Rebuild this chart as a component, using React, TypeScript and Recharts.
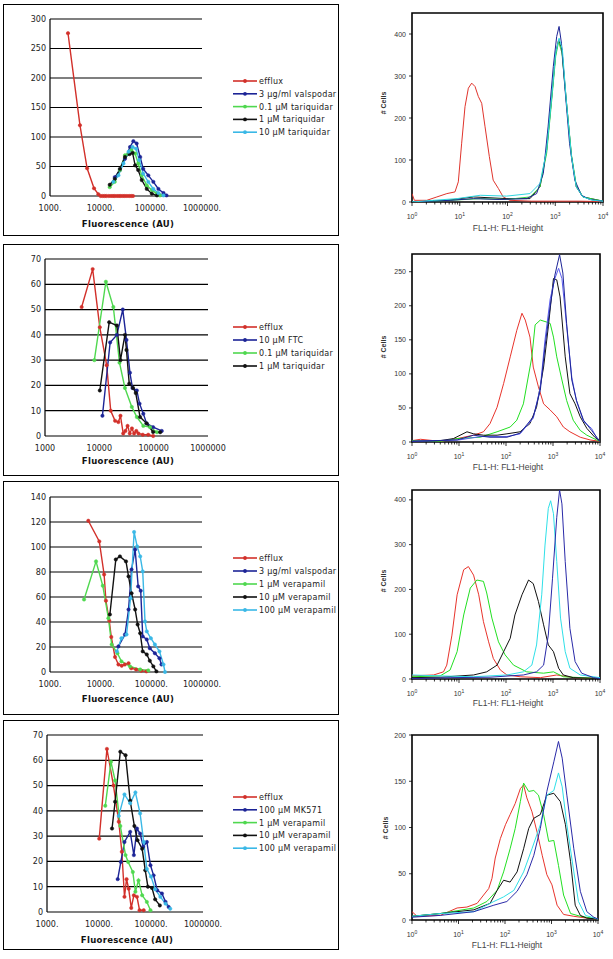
import React from 'react';
import { LineChart, Line, XAxis, YAxis, CartesianGrid, ReferenceArea } from 'recharts';

type Pt = [number, number];

// ---------------- Left panels: Fluorescence (AU) line charts ----------------
const leftXTicks = [1000, 10000, 100000, 1000000];
const c1YTicks = [0, 50, 100, 150, 200, 250, 300];
const c2YTicks = [0, 10, 20, 30, 40, 50, 60, 70];
const c3YTicks = [0, 20, 40, 60, 80, 100, 120, 140];
const c4YTicks = [0, 10, 20, 30, 40, 50, 60, 70];

const c1Labels = ['efflux', '3 µg/ml valspodar', '0.1 µM tariquidar', '1 µM tariquidar', '10 µM tariquidar'];
const c2Labels = ['efflux', '10 µM FTC', '0.1 µM tariquidar', '1 µM tariquidar'];
const c3Labels = ['efflux', '3 µg/ml valspodar', '1 µM verapamil', '10 µM verapamil', '100 µM verapamil'];
const c4Labels = ['efflux', '100 µM MK571', '1 µM verapamil', '10 µM verapamil', '100 µM verapamil'];

const c1Efflux: Pt[] = [[2265, 276], [3900, 120], [5400, 47], [7400, 13], [9000, 3], [10000, 0], [11000, 0], [12000, 0], [13000, 0], [14500, 0], [16000, 0], [17500, 0], [19000, 0], [21000, 0], [23000, 0], [25000, 0], [27500, 0], [30000, 0], [33000, 0], [36500, 0], [40000, 0], [43500, 0]];
const c1Valspodar: Pt[] = [[19000, 32], [24000, 44], [30200, 63], [38000, 83], [44200, 93], [51300, 89], [60300, 66], [69200, 46], [87100, 35], [109600, 24], [138000, 12], [173800, 5], [199500, 1]];
const c1Tq01: Pt[] = [[15100, 15], [19000, 24], [24000, 44], [30200, 69], [35500, 72], [40700, 78], [47900, 72], [55000, 55], [64600, 35], [81300, 18], [102300, 10], [128800, 4], [147900, 1]];
const c1Tq1: Pt[] = [[15100, 19], [19000, 29], [24000, 46], [30200, 66], [37200, 71], [42700, 73], [47900, 52], [55000, 44], [64600, 27], [81300, 12], [102300, 4], [128800, 1]];
const c1Tq10: Pt[] = [[17800, 24], [22400, 35], [28200, 55], [35500, 75], [42700, 83], [50100, 80], [57500, 61], [69200, 38], [87100, 24], [109600, 12], [138000, 5], [173800, 1]];

const c2Efflux: Pt[] = [[4730, 51], [7540, 66], [10200, 43], [13650, 28], [16200, 10], [19500, 6], [22400, 5.5], [24500, 8], [27500, 1], [30200, 2], [33100, 4], [36300, 1], [39800, 3], [43600, 1], [47900, 2], [52500, 1], [63000, 0.5], [79400, 0.5], [98000, 0]];
const c2Ftc: Pt[] = [[11400, 8], [15800, 37], [21000, 40], [27000, 50], [31600, 38], [36600, 25], [40700, 19], [49000, 18], [55000, 12.8], [64500, 8.8], [74100, 5], [97700, 3.5], [141000, 2]];
const c2Tq01: Pt[] = [[8100, 30], [13200, 61], [18100, 51], [23500, 29], [29600, 19], [39600, 11.5], [49000, 7.5], [64500, 4], [85600, 3.5], [115000, 1.5]];
const c2Tq1: Pt[] = [[10200, 18], [15200, 45], [21000, 43.7], [24500, 30], [29600, 40], [31600, 34], [35500, 20.7], [41700, 19], [46800, 17], [56200, 7.5], [74100, 5], [97700, 1.6], [131800, 1.5]];

const c3Efflux: Pt[] = [[5700, 121], [9400, 104.5], [11700, 78], [12700, 57], [14800, 41], [16200, 28], [19200, 12], [22400, 6], [26000, 5], [30000, 6], [35500, 7], [40000, 3], [50000, 2], [63000, 1], [80000, 0.5]];
const c3Valspodar: Pt[] = [[22400, 20.5], [30200, 30], [35500, 50], [40700, 82], [47900, 98], [55000, 68.5], [61700, 65], [67600, 28.5], [81300, 26], [93300, 19], [117500, 15], [144500, 11], [158500, 6]];
const c3Vp1: Pt[] = [[4700, 58], [8100, 88.5], [11000, 69], [14200, 43], [16500, 22], [21400, 15], [25700, 8.5], [38000, 4.5], [60300, 2], [87100, 1.3]];
const c3Vp10: Pt[] = [[15200, 46], [19900, 90], [24000, 92.5], [31600, 88.5], [35500, 76.5], [40700, 63], [47900, 50], [53700, 38], [60300, 31], [67600, 16.5], [81300, 14], [93300, 9], [109600, 4.5], [125900, 0.5]];
const c3Vp100: Pt[] = [[20900, 16.5], [25700, 27], [32400, 30], [38900, 59], [45700, 112], [52500, 100.5], [60300, 92.5], [67600, 80.5], [75000, 40.5], [81300, 32.5], [97700, 27], [117500, 22], [144500, 16.5], [173800, 6], [186200, 0]];

const c4Efflux: Pt[] = [[10100, 29], [14200, 64.5], [19000, 50], [24000, 35.7], [27500, 23.8], [30900, 6], [33900, 13], [37200, 9.2], [41700, 1.6], [46800, 6.6], [53700, 6], [60300, 0.7], [72400, 0.7]];
const c4Mk571: Pt[] = [[22900, 13], [26300, 19.8], [30900, 27.7], [39800, 31.7], [46800, 22.5], [53700, 33], [61700, 31], [70800, 25.8], [83200, 27.7], [97700, 18.5], [112200, 14.5], [131800, 8.6], [162200, 7.3], [190500, 4], [218800, 2]];
const c4Vp1: Pt[] = [[13200, 42], [17000, 59.4], [20400, 52], [25700, 34], [32400, 22.5], [36300, 19.8], [44700, 15.8], [50100, 8], [57500, 12.5], [67600, 6.6], [83200, 4], [97700, 0.7]];
const c4Vp10: Pt[] = [[17800, 33], [20400, 43.6], [25700, 63.4], [32400, 62], [39800, 44], [47900, 34], [55000, 28.4], [67600, 25], [77600, 16.5], [87100, 10], [104700, 9.5], [120200, 5], [147900, 2.6]];
const c4Vp100: Pt[] = [[24000, 38], [30900, 46.5], [39800, 43], [50100, 47.3], [61700, 39], [72400, 27.7], [83200, 17], [100000, 14], [120200, 9], [151400, 6], [190500, 3.3], [234400, 1.3]];

// ---------------- Right panels: flow cytometry histograms (x = log10 FL1-H) ----------------
const histMajorTicks = [0, 1, 2, 3, 4];
const histMinorFactors = [2, 3, 4, 5, 6, 7, 8, 9];
const h1YTicks = [0, 100, 200, 300, 400];
const h2YTicks = [0, 50, 100, 150, 200, 250];
const h3YTicks = [0, 100, 200, 300, 400];
const h4YTicks = [0, 50, 100, 150, 200];

const h1Red: Pt[] = [[0, 20], [0.05, 4], [0.31, 4], [0.52, 12], [0.73, 20], [0.9, 24], [0.97, 48], [1.04, 140], [1.11, 227], [1.18, 271], [1.25, 283], [1.32, 275], [1.39, 251], [1.46, 235], [1.53, 179], [1.62, 108], [1.7, 52], [1.81, 32], [1.91, 12], [2.05, 4], [2.5, 2], [3.0, 2], [3.5, 2], [4, 1]];
const h1Navy: Pt[] = [[0, 0], [0.8, 4], [1.29, 8], [1.84, 6], [2.4, 8], [2.61, 20], [2.75, 68], [2.85, 179], [2.96, 323], [3.03, 394], [3.08, 418], [3.13, 378], [3.2, 275], [3.3, 139], [3.41, 52], [3.55, 16], [3.72, 6], [4, 2]];
const h1Cyan: Pt[] = [[0, 0], [0.45, 4], [0.94, 8], [1.43, 16], [1.98, 14], [2.47, 20], [2.68, 44], [2.82, 124], [2.92, 243], [3.01, 355], [3.08, 390], [3.15, 363], [3.23, 243], [3.34, 108], [3.44, 36], [3.58, 12], [3.79, 4], [4, 2]];
const h1Green: Pt[] = [[0, 0], [0.8, 4], [1.43, 8], [1.98, 6], [2.47, 12], [2.68, 36], [2.82, 116], [2.92, 235], [3.01, 347], [3.07, 382], [3.14, 355], [3.23, 243], [3.34, 112], [3.44, 40], [3.58, 12], [4, 2]];
const h1Black: Pt[] = [[0, 0], [0.73, 4], [1.29, 12], [1.98, 8], [2.47, 8], [2.68, 36], [2.82, 124], [2.92, 243], [3.01, 355], [3.07, 386], [3.14, 363], [3.23, 243], [3.34, 108], [3.44, 36], [3.58, 12], [4, 2]];

const h2Red: Pt[] = [[0, 2], [0.18, 4], [0.6, 1], [0.96, 5], [1.31, 10], [1.52, 15], [1.66, 27], [1.81, 51], [1.95, 86], [2.09, 125], [2.23, 164], [2.34, 189], [2.41, 179], [2.51, 154], [2.58, 110], [2.69, 81], [2.8, 56], [2.94, 47], [3.08, 37], [3.22, 22], [3.36, 15], [3.58, 7], [3.79, 3], [4, 1]];
const h2Green: Pt[] = [[0, 2], [0.6, 1], [0.96, 5], [1.45, 7], [1.81, 15], [2.09, 22], [2.23, 32], [2.37, 56], [2.55, 125], [2.62, 172], [2.73, 179], [2.87, 176], [2.94, 174], [3.01, 154], [3.08, 125], [3.19, 91], [3.29, 61], [3.43, 32], [3.58, 17], [3.72, 10], [3.93, 3], [4, 1]];
const h2Black: Pt[] = [[0, 1], [0.6, 2], [0.88, 5], [1.17, 15], [1.31, 12], [1.52, 10], [1.81, 10], [2.02, 12], [2.3, 15], [2.51, 27], [2.65, 51], [2.8, 110], [2.9, 169], [3.01, 240], [3.08, 238], [3.15, 213], [3.26, 125], [3.36, 71], [3.47, 56], [3.58, 37], [3.72, 20], [3.89, 7], [4, 1]];
const h2Blue: Pt[] = [[0, 1], [1.0, 3], [1.45, 8], [2.02, 8], [2.3, 12], [2.58, 35], [2.73, 80], [2.83, 150], [2.94, 210], [3.04, 240], [3.12, 255], [3.19, 240], [3.29, 170], [3.4, 95], [3.5, 60], [3.65, 30], [3.82, 20], [3.93, 6], [4, 1]];
const h2Navy: Pt[] = [[0, 1], [0.96, 3], [1.31, 10], [1.66, 7], [2.02, 7], [2.3, 13], [2.58, 37], [2.73, 76], [2.83, 140], [2.94, 199], [3.04, 245], [3.14, 275], [3.21, 248], [3.29, 174], [3.4, 91], [3.5, 61], [3.65, 32], [3.82, 17], [3.93, 7], [4, 1]];

const h3Red: Pt[] = [[0, 7], [0.46, 9], [0.67, 16], [0.74, 31], [0.85, 98], [0.96, 188], [1.1, 244], [1.2, 251], [1.31, 232], [1.42, 188], [1.52, 128], [1.63, 83], [1.73, 46], [1.88, 20], [2.02, 9], [2.3, 5], [2.73, 3], [3.08, 9], [3.43, 3], [4, 1]];
const h3Green: Pt[] = [[0, 5], [0.6, 7], [0.81, 20], [0.96, 61], [1.1, 143], [1.24, 203], [1.38, 221], [1.52, 218], [1.59, 192], [1.7, 136], [1.84, 83], [1.98, 54], [2.16, 31], [2.44, 16], [2.8, 13], [3.01, 16], [3.22, 5], [4, 1]];
const h3Black: Pt[] = [[0, 3], [0.6, 4], [1.31, 9], [1.59, 16], [1.81, 31], [1.95, 61], [2.09, 91], [2.19, 143], [2.34, 188], [2.48, 221], [2.58, 213], [2.69, 173], [2.8, 121], [2.9, 76], [3.01, 61], [3.12, 24], [3.22, 9], [3.43, 3], [4, 1]];
const h3Cyan: Pt[] = [[0, 9], [0.6, 7], [1.31, 5], [2.02, 9], [2.37, 16], [2.55, 31], [2.65, 76], [2.76, 188], [2.83, 299], [2.9, 381], [2.95, 398], [3.01, 369], [3.08, 262], [3.16, 136], [3.26, 61], [3.36, 24], [3.58, 9], [4, 3]];
const h3Navy: Pt[] = [[0, 1], [0.81, 3], [1.66, 4], [2.37, 9], [2.65, 16], [2.8, 31], [2.9, 98], [2.99, 225], [3.08, 361], [3.14, 422], [3.19, 391], [3.26, 262], [3.36, 113], [3.47, 39], [3.61, 13], [3.86, 3], [4, 1]];

const h4Red: Pt[] = [[0, 9], [0.11, 4], [0.61, 5], [0.97, 13], [1.18, 14], [1.4, 18], [1.54, 27], [1.65, 34], [1.72, 45], [1.79, 67], [1.9, 88], [2.01, 103], [2.11, 114], [2.22, 126], [2.33, 142], [2.4, 146], [2.47, 132], [2.58, 117], [2.69, 95], [2.8, 70], [2.9, 49], [3.01, 38], [3.12, 16], [3.26, 6], [3.48, 4], [3.76, 2], [4, 1]];
const h4Green: Pt[] = [[0, 4], [0.61, 7], [1.33, 13], [1.61, 20], [1.83, 32], [1.97, 52], [2.11, 77], [2.22, 99], [2.33, 128], [2.4, 148], [2.51, 139], [2.62, 140], [2.72, 135], [2.83, 114], [2.94, 85], [3.05, 86], [3.15, 59], [3.26, 27], [3.41, 7], [3.62, 4], [4, 1]];
const h4Black: Pt[] = [[0, 4], [0.61, 7], [1.33, 11], [1.68, 18], [1.83, 32], [1.97, 43], [2.11, 41], [2.26, 52], [2.4, 77], [2.51, 99], [2.62, 110], [2.76, 114], [2.9, 135], [3.05, 137], [3.19, 128], [3.3, 103], [3.41, 63], [3.51, 16], [3.62, 5], [3.76, 2], [4, 1]];
const h4Cyan: Pt[] = [[0, 4], [0.61, 7], [1.33, 9], [1.76, 20], [1.97, 25], [2.19, 32], [2.4, 52], [2.58, 77], [2.76, 103], [2.9, 135], [3.05, 140], [3.15, 159], [3.23, 144], [3.33, 103], [3.48, 52], [3.58, 20], [3.73, 5], [4, 1]];
const h4Navy: Pt[] = [[0, 3], [0.61, 5], [1.33, 9], [1.76, 16], [2.04, 20], [2.26, 31], [2.47, 49], [2.62, 70], [2.76, 99], [2.9, 139], [3.05, 171], [3.15, 193], [3.23, 175], [3.33, 135], [3.48, 77], [3.62, 31], [3.76, 9], [3.91, 3], [4, 1]];

// ---------------- styling ----------------
const RED = '#d2302a';
const NAVY = '#1c2496';
const GREEN = '#4fd84f';
const BLACK = '#111111';
const CYAN = '#3ab8e6';
const LEFT_FONT = "'DejaVu Sans', Verdana, sans-serif";
const RIGHT_FONT = "'Liberation Sans', Arial, sans-serif";

const toRows = (pts: Pt[]) => pts.map(([x, y]) => ({ x, y }));

type Series = { data: Pt[]; color: string; label?: string };
type Rect = { x1: number; y1: number; x2: number; y2: number };

function LeftChart({ plot, yTicks, series, suffix }: { plot: Rect; yTicks: number[]; series: Series[]; suffix: string }) {
  const YW = 45, TOP = 10, RIGHT = 34, XH = 26;
  const w = plot.x2 - plot.x1 + YW + RIGHT;
  const h = plot.y2 - plot.y1 + TOP + XH;
  const yMax = yTicks[yTicks.length - 1];
  return (
    <div style={{ position: 'absolute', left: plot.x1 - YW, top: plot.y1 - TOP }}>
      <LineChart width={w} height={h} margin={{ top: TOP, right: RIGHT, left: 0, bottom: 0 }}>
        <CartesianGrid vertical={false} stroke="#000" strokeWidth={1.2} />
        <XAxis
          type="number"
          dataKey="x"
          scale="log"
          domain={[1000, 1000000]}
          ticks={leftXTicks}
          allowDataOverflow
          height={XH}
          axisLine={false}
          tickLine={false}
          tickSize={0}
          tickMargin={9}
          interval={0}
          tick={{ fontSize: 8, fill: '#222', fontFamily: LEFT_FONT }}
          tickFormatter={(v: number) => `${v}${suffix}`}
        />
        <YAxis
          type="number"
          domain={[0, yMax]}
          ticks={yTicks}
          width={YW}
          axisLine={{ stroke: '#000', strokeWidth: 1.2 }}
          tickLine={false}
          tickSize={0}
          tickMargin={4}
          interval={0}
          tick={{ fontSize: 8, fill: '#222', fontFamily: LEFT_FONT }}
        />
        {series.map((s, i) => (
          <Line
            key={i}
            data={toRows(s.data)}
            dataKey="y"
            type="linear"
            stroke={s.color}
            strokeWidth={1.4}
            dot={{ r: 1.7, fill: s.color, stroke: s.color, strokeWidth: 0.5 }}
            isAnimationActive={false}
          />
        ))}
      </LineChart>
    </div>
  );
}

function LegendBox({ x, y, gap, right, items }: { x: number; y: number; gap: number; right: number; items: Series[] }) {
  const width = right - x;
  const height = gap * items.length + 8;
  return (
    <svg style={{ position: 'absolute', left: x, top: y - 6 }} width={width} height={height}>
      {items.map((it, i) => {
        const cy = 6 + i * gap;
        return (
          <g key={i}>
            <line x1={0} x2={24} y1={cy} y2={cy} stroke={it.color} strokeWidth={1.6} />
            <circle cx={12} cy={cy} r={1.9} fill={it.color} />
            <text x={26} y={cy + 3} fontSize={8} fill="#222" fontFamily={LEFT_FONT} letterSpacing={0.3}>
              {it.label}
            </text>
          </g>
        );
      })}
    </svg>
  );
}

const histXTicks: number[] = (() => {
  const t: number[] = [];
  histMajorTicks.forEach((n) => {
    t.push(n);
    if (n < 4) histMinorFactors.forEach((k) => t.push(n + Math.log10(k)));
  });
  return t;
})();

function HistXTick(props: any) {
  const { x, y, payload } = props;
  const v = payload.value as number;
  const major = Math.abs(v - Math.round(v)) < 1e-6;
  return (
    <g>
      <line x1={x} x2={x} y1={y} y2={y + (major ? 4 : 2.5)} stroke="#000" strokeWidth={0.8} />
      {major && (
        <text x={x} y={y + 17} textAnchor="middle" fontSize={7} fill="#333" fontFamily={RIGHT_FONT}>
          10<tspan dy={-3} fontSize={5}>{Math.round(v)}</tspan>
        </text>
      )}
    </g>
  );
}

function HistYTick(props: any) {
  const { x, y, payload } = props;
  return (
    <g>
      <line x1={x} x2={x - 3} y1={y} y2={y} stroke="#000" strokeWidth={0.8} />
      <text x={x - 6} y={y + 2.5} textAnchor="end" fontSize={7} fill="#333" fontFamily={RIGHT_FONT}>
        {payload.value}
      </text>
    </g>
  );
}

function Histogram({ frame, yMax, yTicks, series }: { frame: Rect; yMax: number; yTicks: number[]; series: Series[] }) {
  const YW = 40, TOP = 5, RIGHT = 6, XH = 30;
  const w = frame.x2 - frame.x1 + YW + RIGHT;
  const h = frame.y2 - frame.y1 + TOP + XH;
  return (
    <div style={{ position: 'absolute', left: frame.x1 - YW, top: frame.y1 - TOP }}>
      <LineChart width={w} height={h} margin={{ top: TOP, right: RIGHT, left: 0, bottom: 0 }}>
        <XAxis
          type="number"
          dataKey="x"
          domain={[0, 4]}
          ticks={histXTicks}
          allowDataOverflow
          height={XH}
          axisLine={false}
          tickLine={false}
          tickSize={0}
          tickMargin={0}
          interval={0}
          tick={(p: any) => <HistXTick {...p} />}
        />
        <YAxis
          type="number"
          domain={[0, yMax]}
          ticks={yTicks}
          allowDataOverflow
          width={YW}
          axisLine={false}
          tickLine={false}
          tickSize={0}
          tickMargin={0}
          interval={0}
          tick={(p: any) => <HistYTick {...p} />}
        />
        {series.map((s, i) => (
          <Line
            key={i}
            data={toRows(s.data)}
            dataKey="y"
            type="linear"
            stroke={s.color}
            strokeWidth={1}
            dot={false}
            isAnimationActive={false}
          />
        ))}
        <ReferenceArea x1={0} x2={4} y1={0} y2={yMax} fill="none" stroke="#000" strokeWidth={1.6} ifOverflow="visible" />
      </LineChart>
    </div>
  );
}

const boxStyle = (x1: number, y1: number, x2: number, y2: number): React.CSSProperties => ({
  position: 'absolute',
  left: x1,
  top: y1,
  width: x2 - x1,
  height: y2 - y1,
  border: '1px solid #000',
  boxSizing: 'border-box',
});

const centered = (x: number, y: number, extra: React.CSSProperties = {}): React.CSSProperties => ({
  position: 'absolute',
  left: x,
  top: y,
  transform: 'translate(-50%, -50%)',
  whiteSpace: 'nowrap',
  lineHeight: 1,
  ...extra,
});

const leftTitle: React.CSSProperties = { fontFamily: LEFT_FONT, fontSize: 8.5, fontWeight: 'bold', color: '#111', letterSpacing: 0.3 };
const rightTitle: React.CSSProperties = { fontFamily: RIGHT_FONT, fontSize: 8.5, color: '#444' };
const cellsTitle: React.CSSProperties = { fontFamily: RIGHT_FONT, fontSize: 7, fontWeight: 'bold', color: '#333' };

export default function App() {
  const c1: Series[] = [
    { data: c1Efflux, color: RED, label: c1Labels[0] },
    { data: c1Valspodar, color: NAVY, label: c1Labels[1] },
    { data: c1Tq01, color: GREEN, label: c1Labels[2] },
    { data: c1Tq1, color: BLACK, label: c1Labels[3] },
    { data: c1Tq10, color: CYAN, label: c1Labels[4] },
  ];
  const c2: Series[] = [
    { data: c2Efflux, color: RED, label: c2Labels[0] },
    { data: c2Ftc, color: NAVY, label: c2Labels[1] },
    { data: c2Tq01, color: GREEN, label: c2Labels[2] },
    { data: c2Tq1, color: BLACK, label: c2Labels[3] },
  ];
  const c3: Series[] = [
    { data: c3Efflux, color: RED, label: c3Labels[0] },
    { data: c3Valspodar, color: NAVY, label: c3Labels[1] },
    { data: c3Vp1, color: GREEN, label: c3Labels[2] },
    { data: c3Vp10, color: BLACK, label: c3Labels[3] },
    { data: c3Vp100, color: CYAN, label: c3Labels[4] },
  ];
  const c4: Series[] = [
    { data: c4Efflux, color: RED, label: c4Labels[0] },
    { data: c4Mk571, color: NAVY, label: c4Labels[1] },
    { data: c4Vp1, color: GREEN, label: c4Labels[2] },
    { data: c4Vp10, color: BLACK, label: c4Labels[3] },
    { data: c4Vp100, color: CYAN, label: c4Labels[4] },
  ];

  return (
    <div style={{ position: 'absolute', left: 0, top: 0, width: 613, height: 959, background: '#fff', overflow: 'hidden' }}>
      {/* left boxes */}
      <div style={boxStyle(3, 4, 339, 236)} />
      <div style={boxStyle(3, 244, 339, 476)} />
      <div style={boxStyle(3, 481, 339, 715)} />
      <div style={boxStyle(3, 720, 339, 950)} />

      <LeftChart plot={{ x1: 50, y1: 19, x2: 202, y2: 196 }} yTicks={c1YTicks} series={c1} suffix="." />
      <LeftChart plot={{ x1: 45, y1: 259, x2: 208, y2: 436 }} yTicks={c2YTicks} series={c2} suffix="" />
      <LeftChart plot={{ x1: 50, y1: 497, x2: 202, y2: 672 }} yTicks={c3YTicks} series={c3} suffix="." />
      <LeftChart plot={{ x1: 47, y1: 735, x2: 203, y2: 912 }} yTicks={c4YTicks} series={c4} suffix="." />

      <LegendBox x={233} y={81} gap={12.8} right={338} items={c1} />
      <LegendBox x={233} y={327} gap={13} right={338} items={c2} />
      <LegendBox x={233} y={558} gap={13} right={338} items={c3} />
      <LegendBox x={233} y={797} gap={12.8} right={338} items={c4} />

      <div style={centered(128, 224, leftTitle)}>Fluorescence (AU)</div>
      <div style={centered(128, 461, leftTitle)}>Fluorescence (AU)</div>
      <div style={centered(128, 699, leftTitle)}>Fluorescence (AU)</div>
      <div style={centered(127, 940, leftTitle)}>Fluorescence (AU)</div>

      {/* right histograms */}
      <Histogram
        frame={{ x1: 412, y1: 13, x2: 603, y2: 202 }}
        yMax={450}
        yTicks={h1YTicks}
        series={[
          { data: h1Red, color: '#e0342c' },
          { data: h1Black, color: BLACK },
          { data: h1Green, color: '#2ecf3a' },
          { data: h1Navy, color: NAVY },
          { data: h1Cyan, color: '#2fd6e0' },
        ]}
      />
      <Histogram
        frame={{ x1: 412, y1: 254, x2: 600, y2: 442 }}
        yMax={276}
        yTicks={h2YTicks}
        series={[
          { data: h2Red, color: '#e8342c' },
          { data: h2Green, color: '#22e022' },
          { data: h2Black, color: BLACK },
          { data: h2Blue, color: '#5a5cf0' },
          { data: h2Navy, color: NAVY },
        ]}
      />
      <Histogram
        frame={{ x1: 412, y1: 490, x2: 600, y2: 679 }}
        yMax={422}
        yTicks={h3YTicks}
        series={[
          { data: h3Red, color: '#e8342c' },
          { data: h3Green, color: '#22e022' },
          { data: h3Black, color: BLACK },
          { data: h3Cyan, color: '#2fe0e8' },
          { data: h3Navy, color: '#2a2aa8' },
        ]}
      />
      <Histogram
        frame={{ x1: 412, y1: 735, x2: 598, y2: 920 }}
        yMax={200}
        yTicks={h4YTicks}
        series={[
          { data: h4Red, color: '#e8342c' },
          { data: h4Green, color: '#22e022' },
          { data: h4Black, color: BLACK },
          { data: h4Cyan, color: '#2fe0e8' },
          { data: h4Navy, color: '#2a2aa8' },
        ]}
      />

      <div style={centered(508, 228, rightTitle)}>FL1-H: FL1-Height</div>
      <div style={centered(508, 467, rightTitle)}>FL1-H: FL1-Height</div>
      <div style={centered(508, 703, rightTitle)}>FL1-H: FL1-Height</div>
      <div style={centered(507, 945, rightTitle)}>FL1-H: FL1-Height</div>

      <div style={centered(383, 103, { ...cellsTitle, transform: 'translate(-50%, -50%) rotate(-90deg)' })}># Cells</div>
      <div style={centered(383, 347, { ...cellsTitle, transform: 'translate(-50%, -50%) rotate(-90deg)' })}># Cells</div>
      <div style={centered(383, 581, { ...cellsTitle, transform: 'translate(-50%, -50%) rotate(-90deg)' })}># Cells</div>
      <div style={centered(385, 828, { ...cellsTitle, transform: 'translate(-50%, -50%) rotate(-90deg)' })}># Cells</div>
    </div>
  );
}
